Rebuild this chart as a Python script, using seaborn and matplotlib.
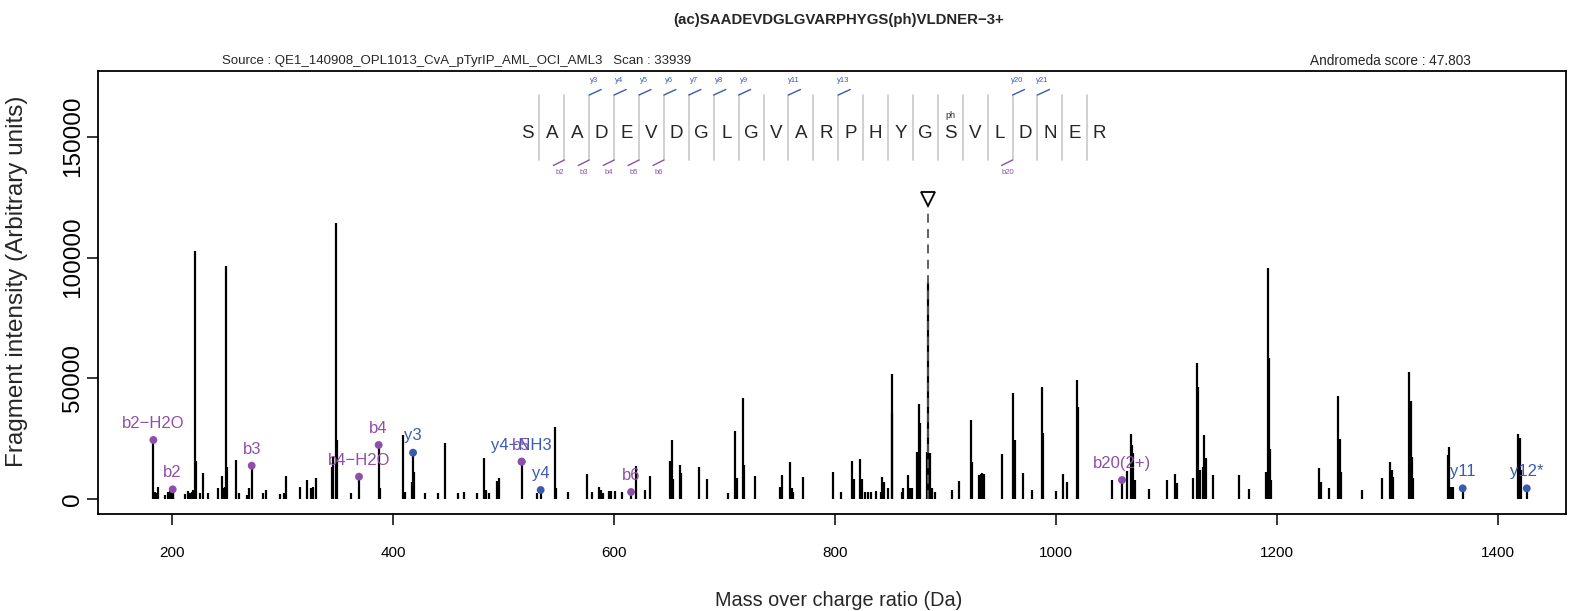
import numpy as np
import pandas as pd
import matplotlib
matplotlib.use('Agg')
import matplotlib.pyplot as plt
from matplotlib.lines import Line2D
import seaborn as sns

# --- spectrum peaks (m/z, intensity) ---
mz = [183.1, 184.6, 186.1, 187.6, 193.7, 196.7, 198.2, 199.7, 200.6, 201.2,
      211.8, 214.8, 216.3, 217.8, 219.3, 220.8, 221.7, 225.3, 227.8, 232.3,
      241.9, 244.9, 246.5, 248.0, 248.9, 250.1, 257.9, 260.9, 267.6, 270.0,
      272.1, 282.1, 285.1, 297.7, 301.4, 303.2, 315.8, 321.9, 325.5, 327.3,
      330.0, 344.5, 346.0, 348.1, 349.0, 361.7, 369.2, 387.0, 388.2, 409.3,
      410.9, 416.9, 418.1, 419.3, 429.3, 440.4, 447.1, 459.1, 464.3, 476.3,
      482.4, 483.9, 487.2, 494.4, 495.9,
      516.4, 530.0, 533.6, 546.6, 547.5, 558.1, 575.3, 579.8, 586.4, 588.2,
      590.3, 595.5, 597.0, 601.2, 607.5, 615.4, 619.6, 628.1, 632.6, 650.7,
      652.2, 653.7, 659.7, 660.6, 677.2, 684.5, 702.9, 709.8, 711.6, 716.4,
      717.9, 727.6, 750.2, 751.7, 759.3, 760.8, 762.3, 770.7, 797.9, 805.4,
      815.7, 817.5, 822.6, 824.1, 827.1, 830.2,
      832.3, 836.8, 841.3, 842.8, 844.3, 848.3, 851.3, 851.9, 860.3, 861.8,
      866.4, 867.9, 869.4, 874.5, 876.0, 876.9, 883.0, 884.5, 886.0, 887.5,
      890.5, 906.2, 912.5, 923.1, 924.3, 930.3, 931.8, 933.3, 934.8, 951.4,
      961.4, 962.9, 969.8, 978.6, 987.0, 987.9, 1000.0, 1006.0, 1010.3, 1019.3,
      1020.2, 1050.4, 1059.7, 1064.0, 1067.6, 1068.5, 1070.0, 1071.5, 1084.2, 1100.7,
      1108.0, 1109.8, 1123.7, 1127.3, 1128.8, 1130.3, 1133.3, 1134.2, 1135.4, 1141.8,
      1165.6, 1174.7, 1189.8, 1191.6, 1192.8, 1193.7, 1194.6, 1238.3, 1239.8, 1247.4,
      1255.5, 1257.0, 1257.9, 1276.6, 1294.7, 1302.3, 1303.8, 1304.7, 1319.5, 1321.0,
      1321.9, 1322.8, 1354.5, 1356.0, 1357.5, 1359.0, 1368.0, 1418.4, 1419.9, 1420.8,
      1426.0]
intensity = [24530, 3160, 2480, 4950, 1790, 3160, 3570, 3160, 4120, 2760,
             2200, 3570, 2760, 3160, 3850, 102830, 15980, 2760, 11000, 2480,
             4540, 9640, 4540, 5230, 96500, 13500, 16250, 2760, 1790, 4540,
             13910, 2480, 3850, 2200, 2760, 9640, 4950, 7990, 4540, 5230,
             8950, 13500, 17640, 114160, 24530, 2480, 9360, 22470, 4540, 26460,
             3160, 7290, 19290, 11430, 2480, 2480, 23150, 2760, 3160, 2760,
             16940, 3850, 2760, 7700, 8670,
             15560, 2760, 3850, 29760, 4540, 3160, 10330, 3160, 5230, 3850,
             2480, 3570, 3570, 3430, 3160, 3020, 13770, 3850, 9770, 15980,
             24530, 8260, 14190, 10740, 13220, 8260, 2760, 28250, 8670, 41760,
             14190, 9640, 5230, 10050, 15290, 4540, 3160, 9090, 11150, 3160,
             15980, 8260, 16530, 8260, 3160, 3160,
             3160, 3430, 3160, 9360, 7290, 4810, 35560, 51690, 3160, 4540,
             10050, 4540, 4540, 19700, 39280, 31420, 19700, 90010, 19010, 4540,
             3160, 3800, 7710, 32800, 15560, 10050, 10460, 10740, 10460, 18600,
             43830, 24530, 11010, 4000, 46310, 27280, 3430, 10300, 7290, 49340,
             38310, 7990, 7990, 11840, 26870, 22460, 19010, 7990, 4200, 7990,
             10460, 6600, 8670, 56240, 46310, 12120, 13500, 26590, 16940, 10050,
             10050, 4130, 11430, 95800, 58300, 20670, 7990, 13080, 7290, 4540,
             42720, 24800, 11430, 3850, 8670, 15560, 12120, 9360, 52510, 40660,
             17360, 8670, 18320, 21490, 5230, 5230, 4540, 27010, 25220, 12120,
             4540]

# --- annotated fragment ions ---
ion_label = ['b2\u2212H2O', 'b2', 'b3', 'b4\u2212H2O', 'b4', 'y3', 'y4\u2212NH3', 'b5',
             'y4', 'b6', 'b20(2+)', 'y11', 'y12*']
ion_mz = [183.1, 200.6, 272.1, 369.2, 387.0, 418.1, 516.4, 516.4,
          533.6, 615.4, 1059.7, 1368.0, 1426.0]
ion_int = [24530, 4120, 13910, 9360, 22470, 19290, 15560, 15560,
           3850, 3020, 7990, 4540, 4540]
ion_series = ['b', 'b', 'b', 'b', 'b', 'y', 'y', 'b', 'y', 'b', 'b', 'y', 'y']

precursor_mz = 884.5
precursor_mark = 124000

# --- peptide sequence coverage ---
sequence = list("SAADEVDGLGVARPHYGSVLDNER")
phospho_site = 17
y_cuts = [3, 4, 5, 6, 7, 8, 9, 11, 13, 20, 21]
b_cuts = [2, 3, 4, 5, 6, 20]

x_ticks = [200, 400, 600, 800, 1000, 1200, 1400]
y_ticks = [0, 50000, 100000, 150000]

title = '(ac)SAADEVDGLGVARPHYGS(ph)VLDNER\u22123+'
source_txt = 'Source : QE1_140908_OPL1013_CvA_pTyrIP_AML_OCI_AML3   Scan : 33939'
score_txt = 'Andromeda score : 47.803'

purple = '#8E4FA8'
blue = '#3A5AAE'
colors = {'b': purple, 'y': blue}

sns.set_theme(style='ticks')
plt.rcParams['font.family'] = ['Liberation Sans', 'DejaVu Sans']

W, H = 1578, 611
fig = plt.figure(figsize=(W / 100, H / 100), dpi=100)
ax = fig.add_axes([98 / W, 1 - 514 / H, (1566 - 98) / W, (514 - 70.7) / H])

# spectrum sticks
ax.vlines(mz, 0, intensity, color='black', linewidth=1.6, zorder=2)

# precursor
ax.vlines(precursor_mz, 0, precursor_mark, color='#555555', linewidth=1.3,
          linestyles=(0, (5, 3.5)), zorder=3)
ax.plot([precursor_mz], [precursor_mark], marker='v', markersize=10,
        markerfacecolor='white', markeredgecolor='black', markeredgewidth=1.3,
        linestyle='none', zorder=4)

ions = pd.DataFrame({'mz': ion_mz, 'intensity': ion_int, 'series': ion_series,
                     'label': ion_label})
sns.scatterplot(data=ions, x='mz', y='intensity', hue='series', palette=colors,
                s=32, edgecolor='none', legend=False, zorder=5, ax=ax)
for _, r in ions.iterrows():
    ax.annotate(r['label'], (r['mz'], r['intensity']), xytext=(0, 12),
                textcoords='offset points', ha='center', va='center',
                color=colors[r['series']], fontsize=12)

ax.set_xlim(133.0, 1461.5)
ax.set_ylim(-6080, 177270)
ax.set_xticks(x_ticks)
ax.set_xticklabels([str(t) for t in x_ticks])
ax.set_yticks(y_ticks)
ax.set_yticklabels([str(t) for t in y_ticks], rotation=90, va='center')
ax.tick_params(axis='both', direction='out', length=8, width=1.1, colors='black')
ax.tick_params(axis='x', pad=15, labelsize=11)
ax.tick_params(axis='y', pad=2, labelsize=17.5)
for s in ax.spines.values():
    s.set_linewidth(1.3)
    s.set_color('black')
ax.set_xlabel('Mass over charge ratio (Da)', fontsize=14.3, va='center')
ax.set_ylabel('Fragment intensity (Arbitrary units)', fontsize=17.5, va='center')
ax.xaxis.set_label_coords((839 - 98) / (1566 - 98), (514 - 600) / (514 - 70.7))
ax.yaxis.set_label_coords((17 - 98) / (1566 - 98), 0.525)

# header texts
fig.text(839 / W, 1 - 20 / H, title, ha='center', va='center',
         fontweight='bold', fontsize=10.8)
fig.text(457 / W, 1 - 61 / H, source_txt, ha='center', va='center', fontsize=9.5)
fig.text(1390 / W, 1 - 61 / H, score_txt, ha='center', va='center', fontsize=9.8)

# sequence coverage drawn in pixel space
x0, step = 527.0, 24.9


def fx(px):
    return px / W


def fy(py):
    return 1 - py / H


for i, aa in enumerate(sequence):
    fig.text(fx(x0 + i * step), fy(134), aa, ha='center', va='center', fontsize=13.5)
fig.text(fx(x0 + phospho_site * step), fy(115), 'ph', ha='center', va='center',
         fontsize=6.5)
for k in range(1, len(sequence)):
    xs = x0 + (k - 0.5) * step
    fig.add_artist(Line2D([fx(xs), fx(xs)], [fy(95), fy(160)], color='#C8C8C8',
                          linewidth=1.2, transform=fig.transFigure))
for k in y_cuts:
    xs = x0 + (k - 0.5) * step
    fig.add_artist(Line2D([fx(xs), fx(xs + 12)], [fy(95), fy(89.5)], color=blue,
                          linewidth=1.0, transform=fig.transFigure))
    fig.text(fx(xs + 5), fy(80), 'y%d' % k, ha='center', va='center', fontsize=5.5,
             color=blue)
for k in b_cuts:
    xs = x0 + (k - 0.5) * step
    fig.add_artist(Line2D([fx(xs), fx(xs - 11)], [fy(160), fy(165.5)], color=purple,
                          linewidth=1.0, transform=fig.transFigure))
    fig.text(fx(xs - 5), fy(173), 'b%d' % k, ha='center', va='center', fontsize=5.5,
             color=purple)

fig.savefig('out.png', dpi=100)
